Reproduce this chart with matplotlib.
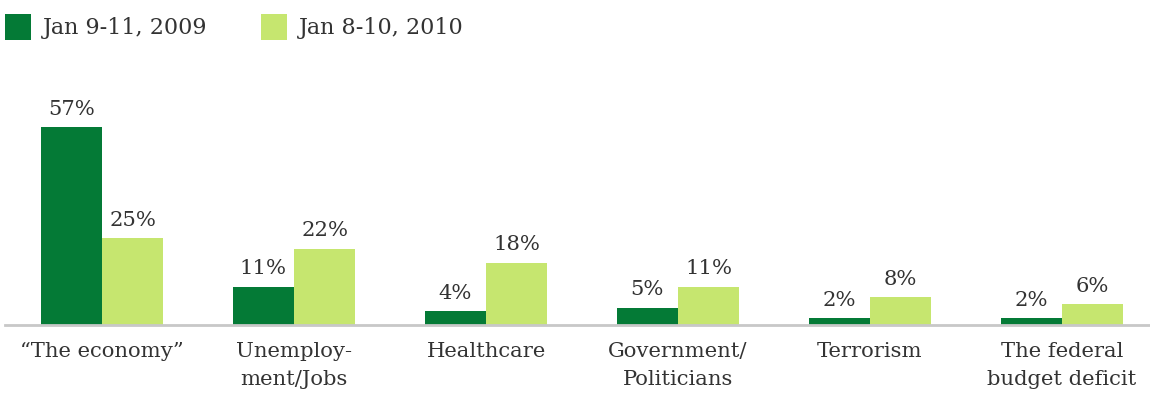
import matplotlib
matplotlib.use("Agg")
import matplotlib.pyplot as plt
import numpy as np

categories = ["\u201cThe economy\u201d", "Unemploy-\nment/Jobs", "Healthcare",
              "Government/\nPoliticians", "Terrorism", "The federal\nbudget deficit"]
series_names = ["Jan 9-11, 2009", "Jan 8-10, 2010"]
values_2009 = [57, 11, 4, 5, 2, 2]
values_2010 = [25, 22, 18, 11, 8, 6]

DARK = "#047a36"
LIGHT = "#c6e66f"
TEXT = "#333333"
FONT = "DejaVu Serif"
FS = 15.2

W, H = 1150, 398
fig = plt.figure(figsize=(W / 100, H / 100), dpi=100)
fig.patch.set_facecolor("white")

# axes: from the baseline (y=325px) up to the top of the figure
base_px = 325
left_px, right_px = 5, 1150
ax = fig.add_axes([left_px / W, (H - base_px) / H, (right_px - left_px) / W, base_px / H])
ax.set_facecolor("none")

x = np.arange(len(categories))
bw = 0.32
px_per_unit = 3.47
ax.set_ylim(0, base_px / px_per_unit)
ax.set_xlim((left_px - 102) / 192, (right_px - 102) / 192)

b1 = ax.bar(x - bw / 2, values_2009, width=bw, color=DARK, linewidth=0)
b2 = ax.bar(x + bw / 2, values_2010, width=bw, color=LIGHT, linewidth=0)

for bars, vals in ((b1, values_2009), (b2, values_2010)):
    for rect, v in zip(bars, vals):
        ax.annotate(f"{v}%", (rect.get_x() + rect.get_width() / 2, v),
                    xytext=(0, 6), textcoords="offset points",
                    ha="center", va="bottom", fontsize=FS, family=FONT, color=TEXT)

ax.axhline(0, color="#c8c8c8", linewidth=2, clip_on=False)
for s in ax.spines.values():
    s.set_visible(False)
ax.set_yticks([])
ax.set_xticks(x)
ax.set_xticklabels(categories, fontsize=FS, family=FONT, color=TEXT, linespacing=1.6, va="top")
ax.tick_params(axis="x", length=0, pad=12)

# legend row
sq = 26
for i, (name, col) in enumerate(zip(series_names, [DARK, LIGHT])):
    x0 = [5, 261][i]
    fig.patches.append(plt.Rectangle((x0 / W, 1 - 40 / H), sq / W, sq / H,
                                     transform=fig.transFigure, color=col, linewidth=0))
    fig.text((x0 + 38) / W, 1 - 28 / H, name, ha="left", va="center",
             fontsize=16, family=FONT, color=TEXT)

fig.savefig("out.png", dpi=100, facecolor="white")
